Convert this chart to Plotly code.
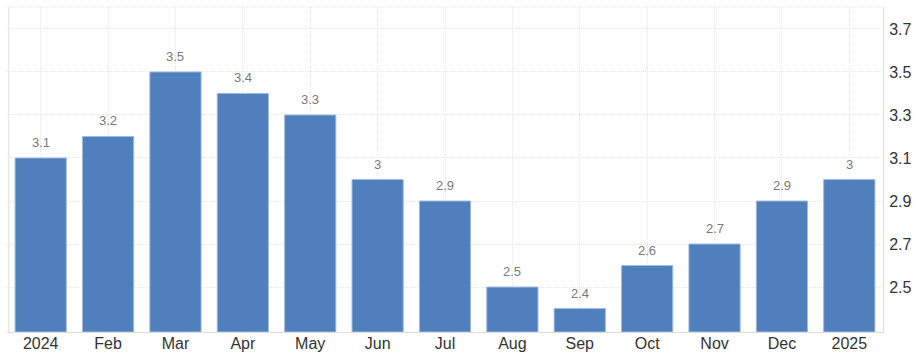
import plotly.graph_objects as go

months = ["2024", "Feb", "Mar", "Apr", "May", "Jun", "Jul", "Aug", "Sep", "Oct", "Nov", "Dec", "2025"]
values = [3.1, 3.2, 3.5, 3.4, 3.3, 3.0, 2.9, 2.5, 2.4, 2.6, 2.7, 2.9, 3.0]
labels = ["3.1", "3.2", "3.5", "3.4", "3.3", "3", "2.9", "2.5", "2.4", "2.6", "2.7", "2.9", "3"]
y_ticks = [2.5, 2.7, 2.9, 3.1, 3.3, 3.5, 3.7]

base = 2.291
fig = go.Figure()
fig.add_trace(go.Bar(
    x=list(range(len(months))),
    y=[v - base for v in values],
    base=base,
    marker=dict(color="#4f7fbd", line=dict(color="#9fbbe0", width=1)),
    hoverinfo="skip",
))

for i, (v, t) in enumerate(zip(values, labels)):
    fig.add_annotation(x=i, y=v, text=t, showarrow=False, yanchor="bottom", yshift=6,
                       font=dict(family="Liberation Sans, Arial, sans-serif", size=13, color="#7a7a7a"))

fig.update_layout(
    width=916, height=357,
    margin=dict(l=7, r=33, t=7, b=25),
    paper_bgcolor="white", plot_bgcolor="white",
    bargap=0.24,
    showlegend=False,
    font=dict(family="Liberation Sans, Arial, sans-serif", size=16, color="#333333"),
)
fig.update_xaxes(
    type="linear", automargin=False,
    tickvals=list(range(len(months))), ticktext=months,
    showgrid=True, gridcolor="#e6e6e6", griddash="1px,1px", gridwidth=1,
    showline=True, linecolor="#dddddd", linewidth=1,
    ticks="", tickfont=dict(size=16, color="#333333"),
    ticklabelstandoff=-3,
    range=[-0.5, 12.5], fixedrange=True, zeroline=False,
)
fig.update_yaxes(
    side="right", range=[base, 3.802], automargin=False,
    tickvals=y_ticks, ticktext=[f"{t:.1f}" for t in y_ticks],
    showgrid=True, gridcolor="#e6e6e6", griddash="1px,1px", gridwidth=1,
    showline=True, linecolor="#dddddd", linewidth=1,
    zeroline=False, ticks="", tickfont=dict(size=16, color="#333333"),
    ticklabelstandoff=2, fixedrange=True,
)
fig.add_shape(type="line", xref="paper", yref="paper", x0=0.002, x1=0.002, y0=0, y1=1,
              line=dict(color="#e0e0e0", width=1))
fig.add_shape(type="line", xref="paper", yref="paper", x0=0, x1=1, y0=1, y1=1,
              line=dict(color="#e6e6e6", width=1, dash="1px,1px"))

fig.write_html("out.html", config={"displayModeBar": False},
               post_script="document.body.style.margin='0';document.body.style.overflow='hidden';")
